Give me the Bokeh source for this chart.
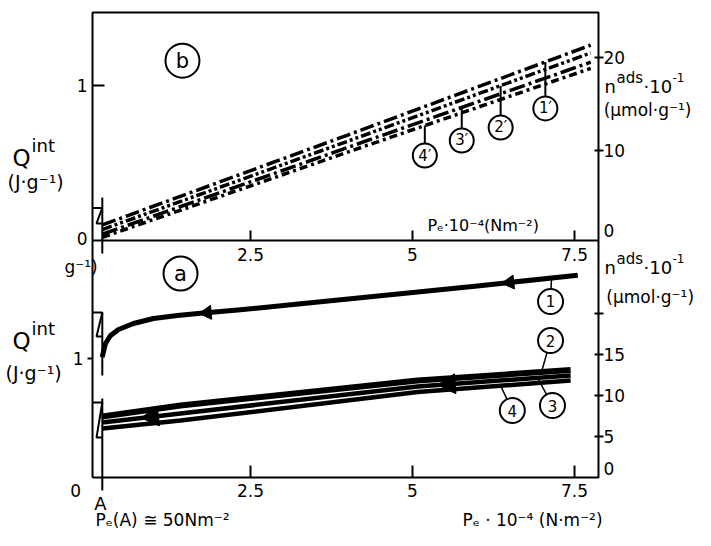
import numpy as np
from bokeh.plotting import figure
from bokeh.models import Range1d
from bokeh.core.properties import value
from bokeh.embed import file_html
from bokeh.resources import INLINE

FONT = "DejaVu Sans"

# ---------------- data ----------------
# shared x axis: Pe * 10^-4 (N m^-2)
x_ticks = [2.5, 5, 7.5]
x_tick_labels = ["2.5", "5", "7.5"]
A_X = 0.213          # point A (Pe(A) ~ 50 N m^-2), drawn off-scale

# panel (a), bottom: Qint (J/g) vs Pe
c1_x = [0.211, 0.262, 0.34, 0.463, 0.694, 1.003, 1.373, 1.728, 2.346, 3.2, 4.2, 6.0, 7.55]
c1_q = [1.011, 1.126, 1.193, 1.244, 1.294, 1.336, 1.361, 1.380, 1.41, 1.455, 1.51, 1.61, 1.70]
bundle_x = [0.213, 1.42, 5.08, 7.44]
c2_q = [0.513, 0.605, 0.815, 0.903]
c3_q = [0.462, 0.538, 0.765, 0.857]
c4_q = [0.412, 0.479, 0.718, 0.815]
c1_arrow_x = [1.83, 6.50]
bundle_arrow_x = [0.99, 5.57]

# panel (b), top: Qint (J/g) vs Pe
b_x = [0.213, 4.0, 7.75]
b1_q = [0.10, 0.68, 1.26]
b2_q = [0.07, 0.64, 1.21]
b3_q = [0.04, 0.60, 1.15]
b4_q = [0.02, 0.57, 1.11]

# axis ticks
qa_ticks, qa_tick_labels = [1], ["1"]
na_ticks, na_tick_labels = [5, 10, 15, 20], ["5", "10", "15", ""]
qb_ticks, qb_tick_labels = [1], ["1"]
nb_ticks, nb_tick_labels = [10, 20], ["10", "20"]

# ---------------- scales (the plot frame covers the whole canvas) ----------------
W, H = 695, 530
XR = (-1.358, 9.367)
QAR = (-0.4454, 4.0084)
QBR = (-1.871, 1.548)
NBR = (-30.86, 26.13)
NAR = (-6.463, 58.17)
X0, X1 = 0.062, 7.87          # extent of both panels along x
QA_TOP = 3.908                # top of the frame in panel-(a) units
p = figure(width=W, height=H, x_range=Range1d(*XR), y_range=Range1d(*QAR),
           output_backend="svg", toolbar_location=None, x_axis_location=None,
           y_axis_location=None, min_border=0)
p.extra_y_ranges = {"qb": Range1d(*QBR), "nb": Range1d(*NBR), "na": Range1d(*NAR)}
p.grid.visible = False
p.outline_line_color = None
p.background_fill_color = "white"
p.border_fill_color = "white"

PX = (XR[1] - XR[0]) / W
QA_PX = (QAR[1] - QAR[0]) / H
QB_PX = (QBR[1] - QBR[0]) / H
NB_PX = (NBR[1] - NBR[0]) / H
NA_PX = (NAR[1] - NAR[0]) / H
K = "black"

def seg(x0, y0, x1, y1, rng=None, w=2):
    kw = {"y_range_name": rng} if rng else {}
    p.segment(x0=x0, y0=y0, x1=x1, y1=y1, line_color=K, line_width=w, **kw)

def txt(x, y, text, rng=None, size="17px", align="left", baseline="middle"):
    kw = {"y_range_name": rng} if rng else {}
    xs = x if isinstance(x, (list, tuple)) else [x]
    ys = y if isinstance(y, (list, tuple)) else [y]
    ts = text if isinstance(text, (list, tuple)) else [text]
    p.text(xs, ys, text=ts, text_font=value(FONT), text_font_size=size,
           text_align=align, text_baseline=baseline, text_color=K, **kw)

def ptxt(ix, iy, text, size, align="left"):
    """text placed at a canvas pixel position (for composite labels with raised parts)"""
    txt(XR[0] + ix * PX, QAR[1] - iy * QA_PX, text, size=size, align=align)

# frame of both panels and the shared boundary
p.line([X0, X1, X1, X0, X0], [0, 0, QA_TOP, QA_TOP, 0], line_color=K, line_width=2)
seg([X0], [0], [X1], [0], "qb")

# ---- bottom x axis (panel a) ----
seg(x_ticks, [0] * 3, x_ticks, [12 * QA_PX] * 3)
txt(list(x_ticks), [-13 * QA_PX] * 3, list(x_tick_labels), align="center")
# left axis (panel a)
seg([X0 - 5 * PX] * len(qa_ticks), qa_ticks, [X0] * len(qa_ticks), qa_ticks)
txt([X0 - 9 * PX] * len(qa_ticks), list(qa_ticks), list(qa_tick_labels), align="right")
txt(-0.2, -13 * QA_PX, "0", align="center")
# right axis (panel a)
seg([X1 - 4 * PX] * 4, na_ticks, [X1 + 5 * PX] * 4, na_ticks, "na")
txt([X1 + 5 * PX] * 4, list(na_ticks), list(na_tick_labels), "na")
txt(X1 + 5 * PX, 9 * NA_PX, "0", "na")

# ---- top panel (b) axes ----
seg(x_ticks, [0] * 3, x_ticks, [10 * QB_PX] * 3, "qb")
txt(list(x_ticks), [-14 * QB_PX] * 3, list(x_tick_labels), "qb", align="center")
seg([X0] * len(qb_ticks), qb_ticks, [X0 + 12 * PX] * len(qb_ticks), qb_ticks, "qb")
txt([X0 - 5 * PX] * len(qb_ticks), list(qb_ticks), list(qb_tick_labels), "qb", align="right")
txt(X0 - 5 * PX, 2 * QB_PX, "0", "qb", align="right")
seg([X1 - 4 * PX] * 2, nb_ticks, [X1 + 5 * PX] * 2, nb_ticks, "nb")
txt([X1 + 5 * PX] * 2, list(nb_ticks), list(nb_tick_labels), "nb")
txt(X1 + 5 * PX, 13 * NB_PX, "0", "nb")

# ---- panel (b) lines ----
dashes = ["14 4 3 4", "10 3 3 3 3 3", "16 4 3 4", "8 4 3 4"]
b_series = [b1_q, b2_q, b3_q, b4_q]
for q, d in zip(b_series, dashes):
    p.line(b_x, q, y_range_name="qb", line_color=K, line_width=3.5, line_dash=d)

# point-A marks (panel b)
seg([A_X], [0.277], [A_X], [-0.084], "qb")
p.line([X0, A_X, X0 + 4 * PX, A_X], [0.21, 0.21, 0.11, 0.11], y_range_name="qb",
       line_color=K, line_width=2)

# labels 1'..4'
bl_x = [7.05, 6.36, 5.76, 5.19]
bl_y = [0.852, 0.729, 0.645, 0.548]
bl_t = ["1′", "2′", "3′", "4′"]
for xv, yv, q in zip(bl_x, bl_y, b_series):
    seg([xv], [yv], [xv], [float(np.interp(xv, b_x, q))], "qb")
p.scatter(bl_x, bl_y, marker="circle", size=24, fill_color="white", line_color=K,
          line_width=2, y_range_name="qb")
txt(bl_x, bl_y, bl_t, "qb", size="15px", align="center")

p.scatter([1.45], [1.16], marker="circle", size=34, fill_color="white", line_color=K,
          line_width=2, y_range_name="qb")
txt(1.45, 1.16, "b", "qb", size="21px", align="center")

txt(5.23, 0.097, "Pₑ·10⁻⁴(Nm⁻²)", "qb", size="16px")
txt(7.95, 0.839, "(µmol·g⁻¹)", "qb", size="17px")
txt(-1.25, 0.374, "(J·g⁻¹)", "qb", size="19px")

# ---- panel (a) ----
al_x = [7.13, 7.13, 7.16, 6.54]
al_y = [1.479, 1.151, 0.605, 0.563]
al_t = ["1", "2", "3", "4"]
al_curve = [(c1_x, c1_q, 7.145), (bundle_x, c2_q, 6.99), (bundle_x, c3_q, 6.93),
            (bundle_x, c4_q, 6.36)]
for xv, yv, (cx, cq, tx) in zip(al_x, al_y, al_curve):
    seg([xv], [yv], [tx], [float(np.interp(tx, cx, cq))], w=1.5)

p.line(c1_x, c1_q, line_color=K, line_width=5, line_join="round")
for q, w in zip([c2_q, c3_q, c4_q], [6, 4.5, 4.5]):
    p.line(bundle_x, q, line_color=K, line_width=w)

def arrows(xs, cx, cq, size):
    xs = np.asarray(xs, dtype=float)
    ys = np.interp(xs, cx, cq)
    slope = (np.interp(xs + 0.05, cx, cq) - np.interp(xs - 0.05, cx, cq)) / 0.1
    ang = np.pi / 2 + np.arctan(slope * PX / QA_PX)
    p.scatter(xs, ys, marker="triangle", size=size, angle=ang, fill_color=K, line_color=K)

arrows(c1_arrow_x, c1_x, c1_q, 14)
arrows(bundle_arrow_x, bundle_x, c3_q, 20)

# point-A marks (panel a)
seg([A_X], [1.387], [A_X], [0.857])
seg([A_X], [0.664], [A_X], [-13 * QA_PX])
p.line([X0, A_X, X0 + 4 * PX, A_X], [1.387, 1.387, 1.185, 1.185], line_color=K, line_width=2)
p.line([X0, A_X, X0 + 4 * PX, A_X], [0.63, 0.63, 0.336, 0.336], line_color=K, line_width=2)

p.scatter(al_x, al_y, marker="circle", size=25, fill_color="white", line_color=K, line_width=2)
txt(al_x, al_y, al_t, size="15px", align="center")
p.scatter([1.42], [1.714], marker="circle", size=34, fill_color="white", line_color=K,
          line_width=2)
txt(1.42, 1.714, "a", size="21px", align="center")

txt(-0.37, 1.765, "g⁻¹)", size="17px")
txt(-1.28, 0.882, "(J·g⁻¹)", size="19px")
txt(A_X - 0.03, -0.22, "A", size="18px", align="center")
txt(0.108, -0.36, "Pₑ(A) ≅ 50Nm⁻²", size="17px")
txt(5.77, -0.36, "Pₑ · 10⁻⁴ (N·m⁻²)", size="17px")
txt(7.99, 1.513, "(µmol·g⁻¹)", size="17px")

# composite axis titles with raised parts (Q^int, n^ads·10^-1) for both panels
for dy in (0, 183):
    ptxt(12, 157 + dy, "Q", "23px")
    ptxt(31, 145 + dy, "int", "18px")
for iy in (86, 267):
    ptxt(604, iy, "n", "18px")
    ptxt(616, iy - 9, "ads", "15px")
    ptxt(643, iy, "·10", "18px")
    ptxt(672, iy - 9, "-1", "12px")

open("out.html", "w").write(file_html(p, INLINE))
